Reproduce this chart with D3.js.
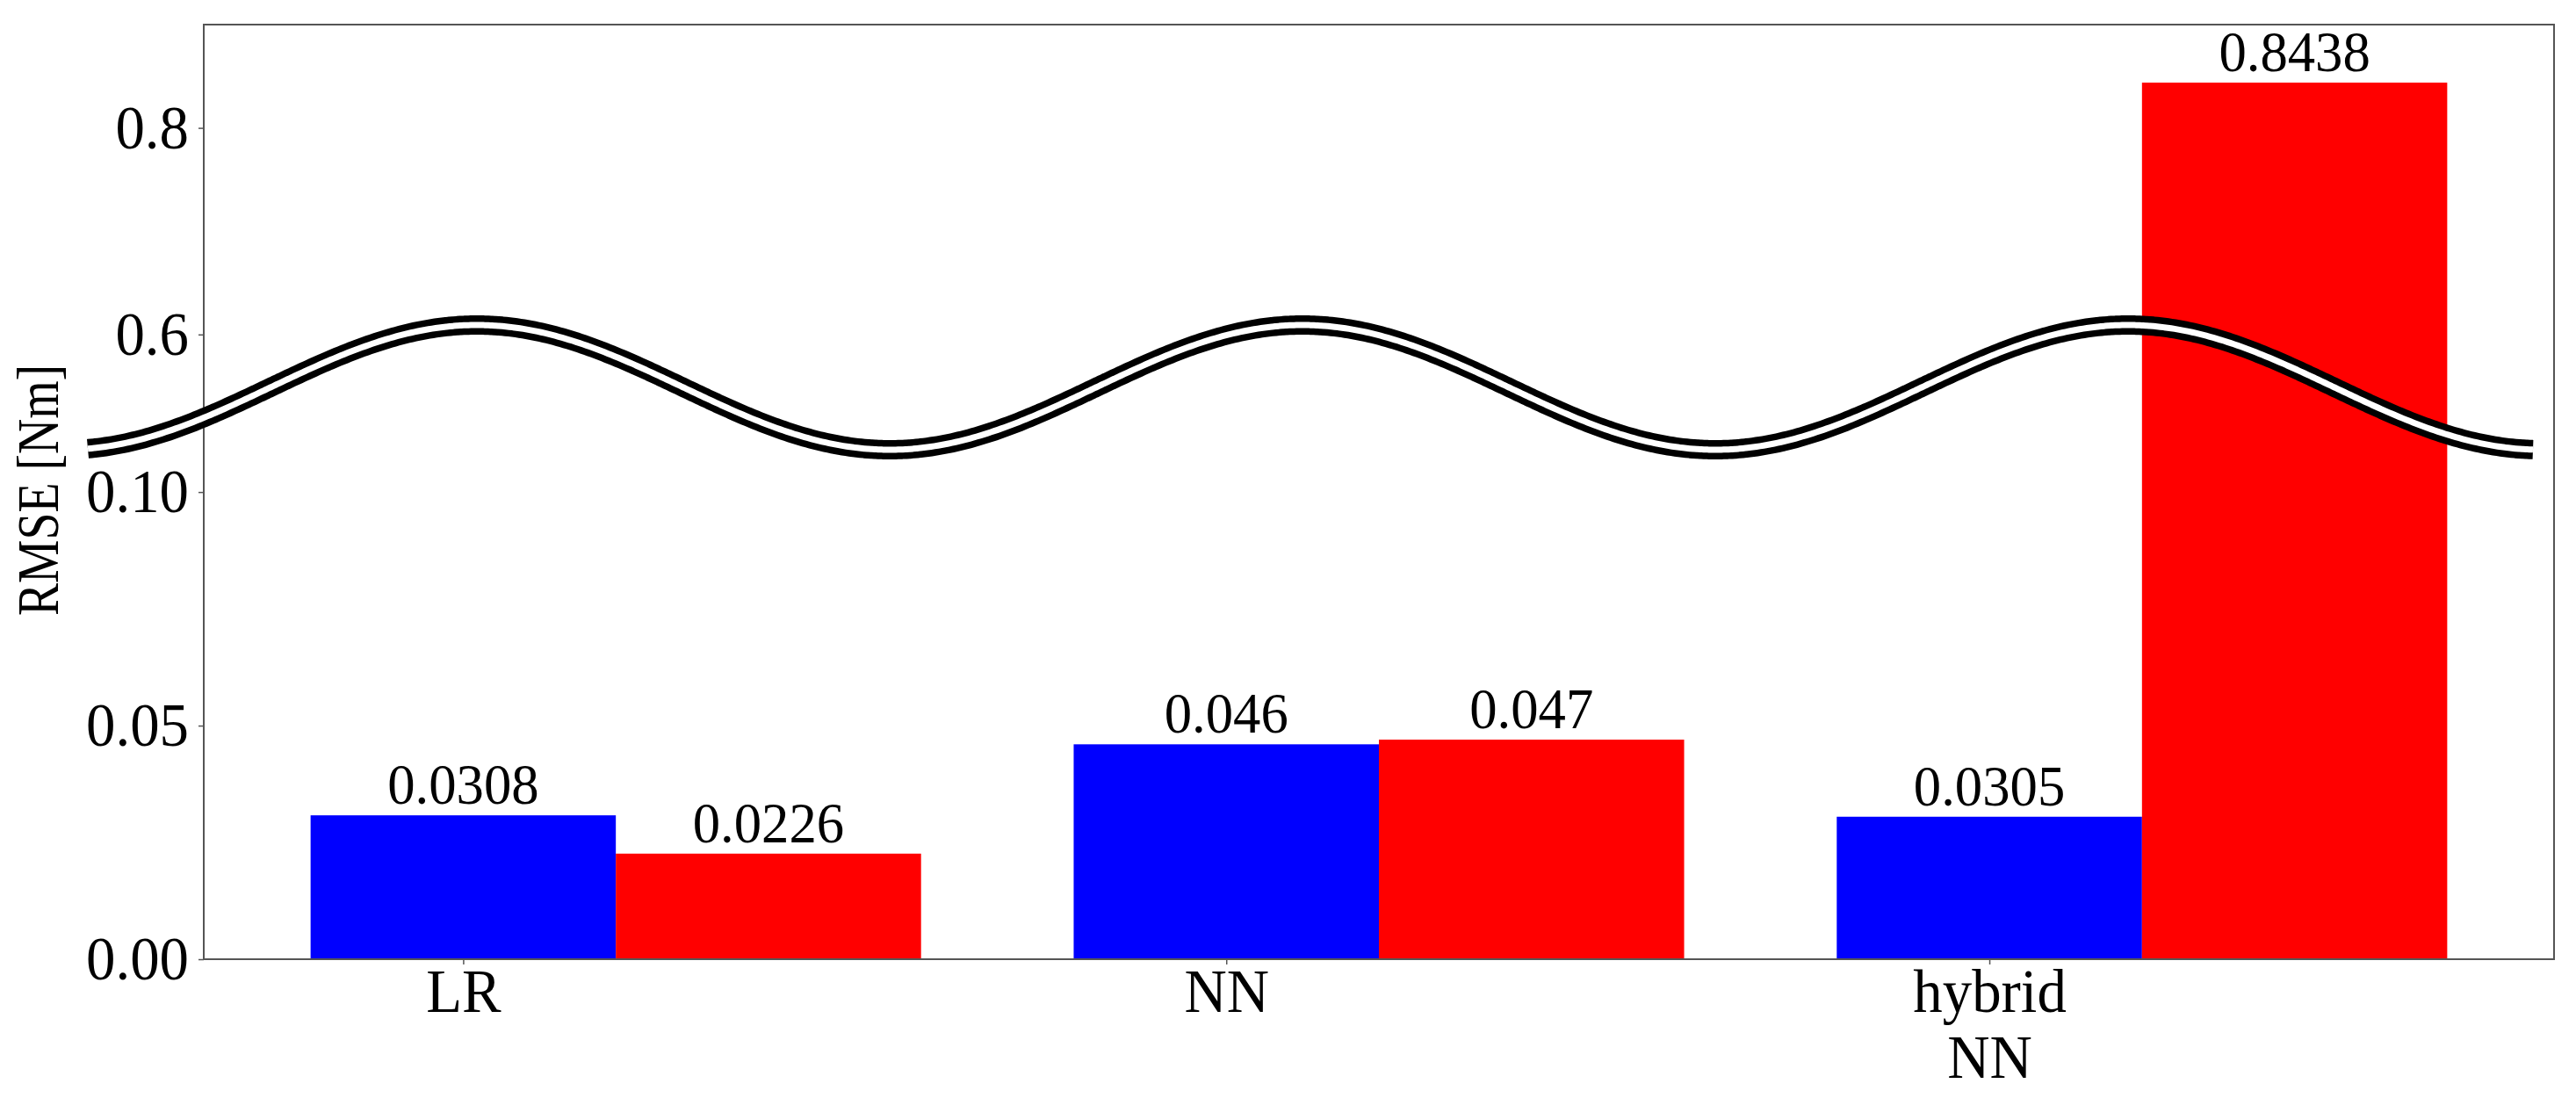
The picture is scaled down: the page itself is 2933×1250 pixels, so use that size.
<!DOCTYPE html>
<html lang="en">
<head>
    <meta charset="UTF-8">
    <title>RMSE broken-axis bar chart</title>
    <script src="https://d3js.org/d3.v7.min.js"></script>
    <style>
        html, body { margin: 0; padding: 0; background: #fff; }
        svg { display: block; }
        text { font-family: "Liberation Serif", "Times New Roman", serif; fill: #000; }
        .spine { fill: none; stroke: #555; stroke-width: 2px; }
        .axis path.domain { display: none; }
        .axis line { stroke: #555; stroke-width: 1.5px; }
    </style>
</head>
<body>
<div id="chart"></div>
<script>
    // data
    const categories = ["LR", "NN", "hybrid\nNN"];
    const seriesA = [0.0308, 0.046, 0.0305];   // blue
    const seriesB = [0.0226, 0.047, 0.8438];   // red
    const labelsA = ["0.0308", "0.046", "0.0305"];
    const labelsB = ["0.0226", "0.047", "0.8438"];
    const lowerTicks = [0.00, 0.05, 0.10];
    const upperTicks = [0.6, 0.8];

    const W = 2933, H = 1250;
    const plotLeft = 232, plotRight = 2908, plotTop = 28, plotBottom = 1092;
    const breakY = 441;

    const svg = d3.select("#chart").append("svg")
        .attr("width", W).attr("height", H);

    // the figure text is slightly narrower than the font, squeeze it a bit
    function condense(sel, k) {
        sel.each(function () {
            const len = this.getComputedTextLength();
            d3.select(this).attr("textLength", len * k).attr("lengthAdjust", "spacingAndGlyphs");
        });
    }

    // x: bars of width 0.4, blue centred on the category, red next to it
    const barW = 0.4;
    const x = d3.scaleLinear().domain([-0.34, 2.74]).range([plotLeft, plotRight]);

    // broken y axis: lower part and upper part meet at breakY
    const yLow = d3.scaleLinear().domain([0, 0.1224]).range([plotBottom, breakY]);
    const yUp = d3.scaleLinear().domain([0.5488, 0.9]).range([breakY, plotTop]);
    const yPos = v => v <= yLow.domain()[1] ? yLow(v) : yUp(v);

    const bars = [];
    categories.forEach((c, i) => {
        bars.push({ x0: i - barW / 2, v: seriesA[i], label: labelsA[i], color: "#0000ff" });
        bars.push({ x0: i + barW / 2, v: seriesB[i], label: labelsB[i], color: "#ff0000" });
    });

    svg.append("g").selectAll("rect")
        .data(bars)
        .enter().append("rect")
        .attr("x", d => x(d.x0))
        .attr("width", d => x(d.x0 + barW) - x(d.x0))
        .attr("y", d => yPos(d.v))
        .attr("height", d => yLow(0) - yPos(d.v))
        .attr("fill", d => d.color);

    // value labels above the bars
    const valueLabels = svg.append("g").selectAll("text")
        .data(bars)
        .enter().append("text")
        .attr("x", d => x(d.x0 + barW / 2))
        .attr("y", d => yPos(d.v) - 13)
        .attr("text-anchor", "middle")
        .style("font-size", "66px")
        .text(d => d.label);
    condense(valueLabels, 0.95);

    // frame
    svg.append("rect").attr("class", "spine")
        .attr("x", plotLeft).attr("y", plotTop)
        .attr("width", plotRight - plotLeft).attr("height", plotBottom - plotTop);

    // y axes
    const lowAxis = svg.append("g").attr("class", "axis")
        .attr("transform", `translate(${plotLeft},0)`)
        .call(d3.axisLeft(yLow).tickValues(lowerTicks).tickFormat(d3.format(".2f")).tickSize(6).tickPadding(11));
    lowAxis.selectAll("text").style("font-size", "70px");
    condense(lowAxis.selectAll("text"), 0.955);

    const upAxis = svg.append("g").attr("class", "axis")
        .attr("transform", `translate(${plotLeft},0)`)
        .call(d3.axisLeft(yUp).tickValues(upperTicks).tickFormat(d3.format(".1f")).tickSize(6).tickPadding(11));
    upAxis.selectAll("text").style("font-size", "70px");
    condense(upAxis.selectAll("text"), 0.955);

    // x axis with multi-line labels
    const xAxis = svg.append("g").attr("class", "axis")
        .attr("transform", `translate(0,${plotBottom})`)
        .call(d3.axisBottom(x).tickValues(d3.range(categories.length)).tickSize(6).tickFormat(""));

    xAxis.selectAll(".tick").append("text")
        .attr("text-anchor", "middle")
        .style("font-size", "70px")
        .each(function (d) {
            const lines = categories[d].split("\n");
            d3.select(this).selectAll("tspan")
                .data(lines)
                .enter().append("tspan")
                .attr("x", 0)
                .attr("y", (l, j) => 60 + j * 75)
                .text(l => l);
        });
    condense(xAxis.selectAll("tspan"), 0.955);

    // y label (squeezed along its length like in the figure)
    svg.append("text")
        .attr("transform", `translate(66,${(plotTop + plotBottom) / 2 - 2}) rotate(-90)`)
        .attr("text-anchor", "middle")
        .style("font-size", "68px")
        .attr("textLength", 286)
        .attr("lengthAdjust", "spacingAndGlyphs")
        .text("RMSE [Nm]");

    // wavy break marker: black band with a white core
    const wave = [];
    for (let px = 100; px <= 2885; px += 4) {
        wave.push([px, breakY - 71 * Math.cos(2 * Math.PI * (px - 543) / 940)]);
    }
    const line = d3.line().curve(d3.curveBasis);
    svg.append("path").attr("d", line(wave))
        .attr("fill", "none").attr("stroke", "#000").attr("stroke-width", 22).attr("stroke-linecap", "butt");
    svg.append("path").attr("d", line(wave))
        .attr("fill", "none").attr("stroke", "#fff").attr("stroke-width", 7).attr("stroke-linecap", "butt");
</script>
</body>
</html>
